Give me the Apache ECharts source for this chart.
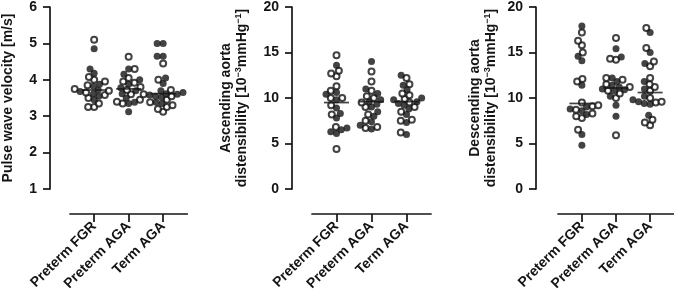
<!DOCTYPE html>
<html>
<head>
<meta charset="utf-8">
<script src="https://cdn.jsdelivr.net/npm/echarts@6/dist/echarts.min.js"></script>
<style>
html,body{margin:0;padding:0;background:#fff;}
#chart{width:674px;height:294px;}
</style>
</head>
<body>
<div id="chart"></div>
<script>
// ---- data ----
const categories = ['Preterm FGR', 'Preterm AGA', 'Term AGA'];

// Pulse wave velocity [m/s]
const pwvFilled = [
  [4.85, 4.3, 4.18, 3.88, 3.82, 3.72, 3.68, 3.62, 3.55, 3.45],
  [4.3, 4.15, 4.0, 3.88, 3.78, 3.7, 3.62, 3.5, 3.38, 3.35, 3.12],
  [5.0, 5.0, 4.65, 4.65, 4.05, 3.9, 3.7, 3.65, 3.62, 3.6, 3.58, 3.55, 3.52, 3.38, 3.35]
];
const pwvOpen = [
  [5.1, 4.08, 4.0, 3.95, 3.85, 3.75, 3.7, 3.65, 3.58, 3.5, 3.35, 3.25, 3.25],
  [4.63, 4.3, 4.05, 3.95, 3.92, 3.8, 3.72, 3.6, 3.45, 3.4, 3.35],
  [4.45, 4.0, 3.72, 3.6, 3.55, 3.45, 3.38, 3.3, 3.25, 3.2, 3.12]
];
const pwvMedian = [3.72, 3.75, 3.62];

// Ascending aorta distensibility
const ascFilled = [
  [13.6, 10.6, 10.4, 9.8, 8.9, 8.3, 7.8, 6.7, 6.5, 6.3, 6.1],
  [14.0, 11.0, 10.5, 9.8, 9.6, 9.3, 9.0, 8.5, 8.0, 7.4, 7.0, 6.6],
  [12.5, 11.4, 10.9, 10.0, 9.8, 9.6, 9.4, 9.2, 8.8, 8.2, 7.3, 6.0]
];
const ascOpen = [
  [14.7, 13.0, 12.7, 12.4, 11.3, 10.8, 10.0, 10.0, 9.2, 8.2, 6.8, 4.4],
  [12.9, 11.8, 10.8, 10.2, 10.0, 9.5, 9.0, 8.2, 7.5, 6.8, 6.7],
  [12.2, 11.5, 10.5, 10.3, 9.9, 9.5, 9.0, 8.5, 7.6, 7.5, 6.2]
];
const ascMedian = [9.5, 9.6, 9.6];

// Descending aorta distensibility
const descFilled = [
  [17.9, 14.6, 14.1, 11.4, 9.0, 8.8, 8.6, 8.2, 6.0, 4.8],
  [15.4, 14.5, 12.2, 11.8, 11.4, 11.2, 11.0, 10.9, 10.8, 10.2, 9.2, 8.0],
  [17.2, 15.0, 13.8, 11.8, 11.0, 10.2, 9.8, 9.6, 9.4, 9.3, 8.1]
];
const descOpen = [
  [17.2, 16.3, 15.8, 15.0, 12.1, 11.8, 9.5, 9.2, 9.1, 8.7, 8.3, 8.0, 7.8, 6.5],
  [16.6, 14.3, 14.2, 12.2, 12.0, 11.5, 11.2, 10.8, 10.5, 10.0, 5.9],
  [17.7, 15.5, 14.0, 13.5, 12.2, 11.5, 11.2, 10.8, 10.0, 9.6, 9.5, 7.6, 7.3, 7.0]
];
const descMedian = [9.4, 11.1, 10.6];

const yTitles = [
  '{t|Pulse wave velocity [m/s]}',
  '{t|Ascending aorta}\n{t|distensibility [10}{s|−3}{t|mmHg}{s|−1}{t|]}',
  '{t|Descending aorta}\n{t|distensibility [10}{s|−3}{t|mmHg}{s|−1}{t|]}'
];

// ---- layout ----
const INK = '#141414';
const FONT = 'Liberation Sans';
const panels = [
  {filled: pwvFilled, open: pwvOpen, med: pwvMedian, ymin: 1, ymax: 6, step: 1,
   grid: {left: 70, top: 6, width: 117.3, height: 183}, yOffset: 20, unit: 34.5, nameGap: 34},
  {filled: ascFilled, open: ascOpen, med: ascMedian, ymin: 0, ymax: 20, step: 5,
   grid: {left: 312, top: 5, width: 119, height: 184}, yOffset: 20, unit: 35, nameGap: 42},
  {filled: descFilled, open: descOpen, med: descMedian, ymin: 0, ymax: 20, step: 5,
   grid: {left: 558, top: 5, width: 117.3, height: 184}, yOffset: 22, unit: 34.5, nameGap: 37}
];

// beeswarm: compute horizontal offsets (px) so markers don't overlap
function swarm(items, pxPerUnit, d) {
  const sorted = items.map(it => Object.assign({}, it, {y: it.v * pxPerUnit}))
    .sort((a, b) => a.y - b.y);
  const placed = [];
  sorted.forEach(it => {
    const cands = [0];
    placed.forEach(p => {
      const dy = it.y - p.y;
      if (Math.abs(dy) < d) {
        const dx = Math.sqrt(d * d - dy * dy);
        cands.push(p.x + dx, p.x - dx);
      }
    });
    cands.sort((a, b) => Math.abs(a) - Math.abs(b) || a - b);
    let x = 0;
    for (const c of cands) {
      let ok = true;
      for (const p of placed) {
        const dx = c - p.x, dy = it.y - p.y;
        if (dx * dx + dy * dy < d * d - 0.01) { ok = false; break; }
      }
      if (ok) { x = c; break; }
    }
    it.x = x;
    placed.push(it);
  });
  return sorted;
}

const grids = [], xAxes = [], yAxes = [], series = [];
panels.forEach((P, pi) => {
  grids.push(P.grid);
  const pxPerUnit = P.grid.height / (P.ymax - P.ymin);
  xAxes.push({
    gridIndex: pi, type: 'value', min: -0.7, max: 2.7, offset: 25,
    axisLine: {show: true, onZero: false, lineStyle: {color: INK, width: 1.7}},
    axisTick: {show: true, customValues: [0, 1, 2], length: 8, lineStyle: {color: INK, width: 1.7}},
    axisLabel: {customValues: [0, 1, 2], formatter: v => categories[Math.round(v)] || '',
      rotate: 45, fontSize: 14, fontWeight: 700, fontFamily: FONT, color: INK, margin: 10},
    splitLine: {show: false}
  });
  yAxes.push({
    gridIndex: pi, type: 'value', min: P.ymin, max: P.ymax, interval: P.step, offset: P.yOffset,
    axisLine: {show: true, onZero: false, lineStyle: {color: INK, width: 1.7}},
    axisTick: {show: true, length: 7, lineStyle: {color: INK, width: 1.7}},
    axisLabel: {fontSize: 14, fontWeight: 700, fontFamily: FONT, color: INK, margin: 13},
    splitLine: {show: false},
    name: yTitles[pi], nameLocation: 'middle', nameGap: P.nameGap, nameRotate: 90,
    nameTextStyle: {
      rich: {
        t: {fontSize: 14, fontWeight: 700, fontFamily: FONT, color: INK, lineHeight: 16},
        s: {fontSize: 9, fontWeight: 700, fontFamily: FONT, color: INK, lineHeight: 16, verticalAlign: 'top'}
      }
    }
  });
  const filledData = [], openData = [];
  for (let g = 0; g < 3; g++) {
    const items = [];
    P.filled[g].forEach(v => items.push({v, f: true}));
    P.open[g].forEach(v => items.push({v, f: false}));
    swarm(items, pxPerUnit, 6).forEach(it => {
      const pt = [g + it.x / P.unit, it.v];
      (it.f ? filledData : openData).push(pt);
    });
  }
  series.push({
    type: 'scatter', xAxisIndex: pi, yAxisIndex: pi, data: openData, symbol: 'circle', symbolSize: 6,
    itemStyle: {color: '#fff', borderColor: INK, borderWidth: 2}, z: 3, silent: true
  });
  series.push({
    type: 'scatter', xAxisIndex: pi, yAxisIndex: pi, data: filledData, symbol: 'circle', symbolSize: 7,
    itemStyle: {color: INK}, z: 4, silent: true
  });
  series.push({
    type: 'scatter', xAxisIndex: pi, yAxisIndex: pi, data: P.med.map((m, g) => [g, m]),
    symbol: 'rect', symbolSize: [25, 1.7], itemStyle: {color: INK}, z: 5, silent: true
  });
});

const chart = echarts.init(document.getElementById('chart'), null, {renderer: 'canvas'});
chart.setOption({
  backgroundColor: '#fff',
  animation: false,
  grid: grids, xAxis: xAxes, yAxis: yAxes, series: series
});
</script>
</body>
</html>
